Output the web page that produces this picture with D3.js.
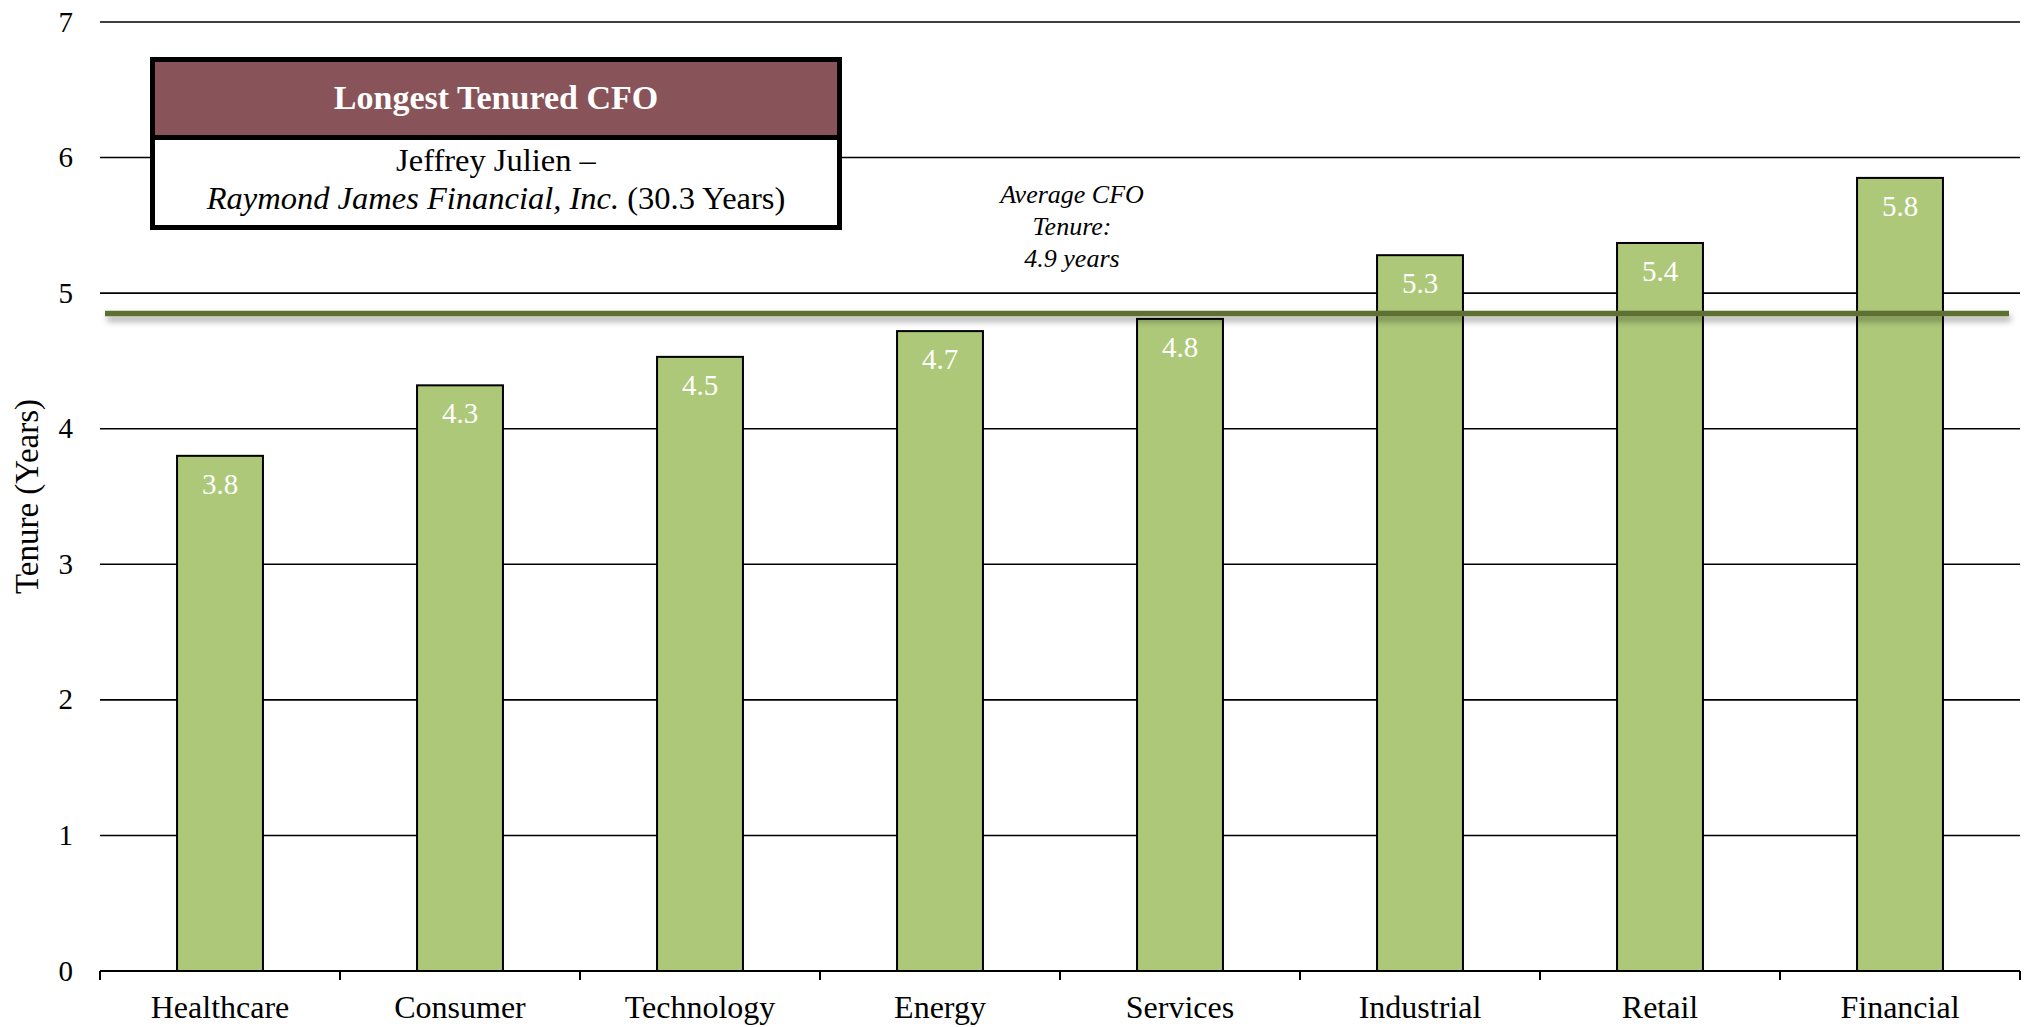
<!DOCTYPE html>
<html>
<head>
<meta charset="utf-8">
<script src="https://cdn.jsdelivr.net/npm/d3@7"></script>
<style>
  html, body { margin: 0; padding: 0; background: #fff; }
  svg { display: block; font-family: "Liberation Serif", "Times New Roman", serif; }
</style>
</head>
<body>
<svg id="chart" width="2026" height="1027"></svg>
<script>
const categories = ["Healthcare", "Consumer", "Technology", "Energy", "Services", "Industrial", "Retail", "Financial"];
const tenure = [3.8, 4.32, 4.53, 4.72, 4.81, 5.28, 5.37, 5.85];
const tenureLabels = ["3.8", "4.3", "4.5", "4.7", "4.8", "5.3", "5.4", "5.8"];
const yTicks = [0, 1, 2, 3, 4, 5, 6, 7];
const averageTenure = 4.85;
const averageText = ["Average CFO", "Tenure:", "4.9 years"];
const boxTitle = "Longest Tenured CFO";
const boxLine1 = "Jeffrey Julien \u2013";
const boxLine2Italic = "Raymond James Financial, Inc.";
const boxLine2Plain = " (30.3 Years)";
const yTitle = "Tenure (Years)";

(function () {
const svg = d3.select("#chart");
const mLeft = 100, mRight = 2020, mTop = 22, mBottom = 971;

const x = d3.scaleBand().domain(categories).range([mLeft, mRight]).paddingInner(0.642).paddingOuter(0.321);
const y = d3.scaleLinear().domain([0, 7]).range([mBottom, mTop]);

const defs = svg.append("defs");
const f = defs.append("filter").attr("id", "shadow").attr("filterUnits", "userSpaceOnUse")
  .attr("x", 0).attr("y", 0).attr("width", 2026).attr("height", 1027);
f.append("feDropShadow").attr("dx", 2).attr("dy", 5).attr("stdDeviation", 3).attr("flood-color", "#000").attr("flood-opacity", 0.35);

// gridlines
svg.append("g").selectAll("line").data(yTicks.filter(d => d > 0)).join("line")
  .attr("x1", mLeft).attr("x2", mRight)
  .attr("y1", d => y(d)).attr("y2", d => y(d))
  .attr("stroke", "#000").attr("stroke-width", 1.6);

// y tick labels
svg.append("g").selectAll("text").data(yTicks).join("text")
  .attr("x", 73).attr("y", d => y(d)).attr("dy", "0.33em")
  .attr("text-anchor", "end").attr("font-size", 29).attr("fill", "#000")
  .text(d => d);

// y title
svg.append("text")
  .attr("transform", `translate(38,${(mTop + mBottom) / 2}) rotate(-90)`)
  .attr("text-anchor", "middle").attr("font-size", 33).attr("fill", "#000")
  .text(yTitle);

// bars
svg.append("g").selectAll("rect").data(categories).join("rect")
  .attr("x", d => x(d)).attr("width", x.bandwidth())
  .attr("y", (d, i) => y(tenure[i])).attr("height", (d, i) => y(0) - y(tenure[i]))
  .attr("fill", "#adc878").attr("stroke", "#000").attr("stroke-width", 2);

// bar labels
svg.append("g").selectAll("text").data(categories).join("text")
  .attr("x", d => x(d) + x.bandwidth() / 2)
  .attr("y", (d, i) => y(tenure[i]) + 38)
  .attr("text-anchor", "middle").attr("font-size", 29).attr("fill", "#fff")
  .text((d, i) => tenureLabels[i]);

// average line
svg.append("path")
  .attr("d", `M105,${y(averageTenure)}H2009`)
  .attr("stroke", "#5d6f33").attr("stroke-width", 5.5).attr("fill", "none")
  .attr("filter", "url(#shadow)");

// x axis
const gx = svg.append("g").attr("transform", `translate(0,${mBottom})`);
gx.append("line").attr("x1", mLeft).attr("x2", mRight).attr("stroke", "#000").attr("stroke-width", 2);
const bounds = d3.range(categories.length + 1).map(i => mLeft + i * x.step());
gx.selectAll("line.tk").data(bounds).join("line").attr("class", "tk")
  .attr("x1", d => d).attr("x2", d => d).attr("y1", 0).attr("y2", 9)
  .attr("stroke", "#000").attr("stroke-width", 2);
gx.selectAll("text").data(categories).join("text")
  .attr("x", d => x(d) + x.bandwidth() / 2).attr("y", 47)
  .attr("text-anchor", "middle").attr("font-size", 32).attr("fill", "#000")
  .text(d => d);

// average annotation
const at = svg.append("text").attr("text-anchor", "middle").attr("font-size", 26).attr("font-style", "italic").attr("fill", "#000");
averageText.forEach((t, i) => {
  at.append("tspan").attr("x", 1072).attr("y", 203 + i * 32).text(t);
});

// info box
const bx = 152.5, by = 59.5, bw = 687, bh = 168, hh = 78;
svg.append("rect").attr("x", bx).attr("y", by).attr("width", bw).attr("height", bh).attr("fill", "#fff");
svg.append("rect").attr("x", bx).attr("y", by).attr("width", bw).attr("height", hh).attr("fill", "#885359");
svg.append("line").attr("x1", bx).attr("x2", bx + bw).attr("y1", by + hh).attr("y2", by + hh).attr("stroke", "#000").attr("stroke-width", 5);
svg.append("rect").attr("x", bx).attr("y", by).attr("width", bw).attr("height", bh).attr("fill", "none").attr("stroke", "#000").attr("stroke-width", 5);
svg.append("text").attr("x", bx + bw / 2).attr("y", 109).attr("text-anchor", "middle")
  .attr("font-size", 34).attr("font-weight", "bold").attr("fill", "#fff").text(boxTitle);
svg.append("text").attr("x", bx + bw / 2).attr("y", 171).attr("text-anchor", "middle")
  .attr("font-size", 32.5).attr("fill", "#000").text(boxLine1);
const l2 = svg.append("text").attr("x", bx + bw / 2).attr("y", 209).attr("text-anchor", "middle")
  .attr("font-size", 32.5).attr("fill", "#000");
l2.append("tspan").attr("font-style", "italic").text(boxLine2Italic);
l2.append("tspan").text(boxLine2Plain);
})();
</script>
</body>
</html>
